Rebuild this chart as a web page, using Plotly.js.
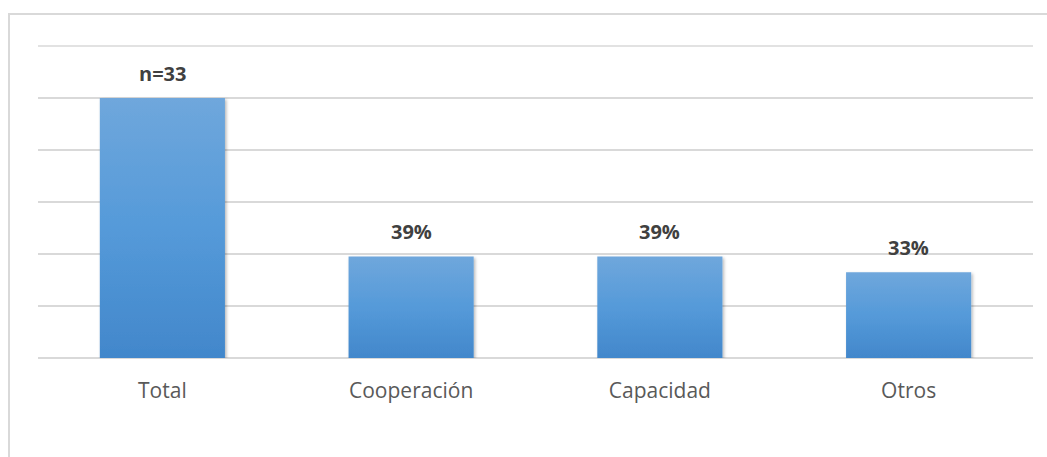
<!DOCTYPE html>
<html>
<head>
<meta charset="utf-8">
<script src="https://cdn.plot.ly/plotly-3.0.1.min.js"></script>
<style>
  html, body { margin: 0; padding: 0; background: #ffffff; }
  #chart { width: 1047px; height: 457px; }
</style>
</head>
<body>
<div id="chart"></div>
<script>
// Share of respondents by category (Total = base of 100%)
const categories = ['Total', 'Cooperación', 'Capacidad', 'Otros'];
const values = [100, 39, 39, 33];
const labels = ['n=33', '39%', '39%', '33%'];

const PLOT_W = 995, PLOT_H = 312;
const FONT = 'Open Sans, Liberation Sans, sans-serif';

const trace = {
  type: 'bar',
  x: categories,
  y: values,
  marker: { color: '#5b9bd5', line: { width: 0 } },
  hoverinfo: 'skip'
};

const annotations = categories.map((c, i) => ({
  x: c,
  y: values[i],
  xref: 'x',
  yref: 'y',
  text: '<b>' + labels[i] + '</b>',
  showarrow: false,
  yanchor: 'middle',
  yshift: 25,
  font: { family: FONT, size: 20, color: '#404040' }
}));

const layout = {
  width: 1047,
  height: 457,
  margin: { l: 38, r: 14, t: 46, b: 99 },
  paper_bgcolor: '#ffffff',
  plot_bgcolor: '#ffffff',
  showlegend: false,
  bargap: 0.497,
  xaxis: {
    type: 'category',
    showgrid: false,
    zeroline: false,
    showline: false,
    ticks: '',
    tickfont: { family: FONT, size: 21, color: '#595959' },
    ticklabelstandoff: 18
  },
  yaxis: {
    range: [0, 120],
    dtick: 20,
    showgrid: true,
    gridcolor: '#d9d9d9',
    gridwidth: 1.5,
    zeroline: true,
    zerolinecolor: '#d9d9d9',
    zerolinewidth: 1.5,
    showticklabels: false,
    ticks: '',
    fixedrange: true
  },
  annotations: annotations,
  shapes: [
    {
      // outer chart frame
      type: 'rect',
      xref: 'paper', yref: 'paper',
      x0: (9 - 38) / PLOT_W,
      x1: (1060 - 38) / PLOT_W,
      y0: -(470 - 358) / PLOT_H,
      y1: 1 + (46 - 14) / PLOT_H,
      line: { color: '#d9d9d9', width: 2 },
      fillcolor: 'rgba(0,0,0,0)',
      layer: 'below'
    },
    {
      // top gridline at the upper end of the value range
      type: 'line',
      xref: 'paper', yref: 'paper',
      x0: 0, x1: 1, y0: 1, y1: 1,
      line: { color: '#d9d9d9', width: 1.5 },
      layer: 'below'
    }
  ]
};

Plotly.newPlot('chart', [trace], layout, { staticPlot: true, displayModeBar: false }).then(gd => {
  // Vertical gradient fill and soft drop shadow on the bars
  const svg = gd.querySelector('svg.main-svg');
  const NS = 'http://www.w3.org/2000/svg';
  let defs = svg.querySelector('defs');
  if (!defs) { defs = document.createElementNS(NS, 'defs'); svg.insertBefore(defs, svg.firstChild); }

  const grad = document.createElementNS(NS, 'linearGradient');
  grad.setAttribute('id', 'barGrad');
  grad.setAttribute('x1', '0'); grad.setAttribute('y1', '0');
  grad.setAttribute('x2', '0'); grad.setAttribute('y2', '1');
  [['0', '#6fa7dc'], ['0.5', '#559ad9'], ['1', '#4287cb']].forEach(([o, c]) => {
    const s = document.createElementNS(NS, 'stop');
    s.setAttribute('offset', o); s.setAttribute('stop-color', c);
    grad.appendChild(s);
  });
  defs.appendChild(grad);

  const filt = document.createElementNS(NS, 'filter');
  filt.setAttribute('id', 'barShadow');
  filt.setAttribute('x', '-10%'); filt.setAttribute('y', '-10%');
  filt.setAttribute('width', '130%'); filt.setAttribute('height', '130%');
  const sh = document.createElementNS(NS, 'feDropShadow');
  sh.setAttribute('dx', '1.5'); sh.setAttribute('dy', '1.5');
  sh.setAttribute('stdDeviation', '1.8');
  sh.setAttribute('flood-color', '#000000');
  sh.setAttribute('flood-opacity', '0.28');
  filt.appendChild(sh);
  defs.appendChild(filt);

  gd.querySelectorAll('.trace.bars .point path').forEach(p => {
    p.style.fill = 'url(#barGrad)';
    p.setAttribute('filter', 'url(#barShadow)');
  });
});
</script>
</body>
</html>
